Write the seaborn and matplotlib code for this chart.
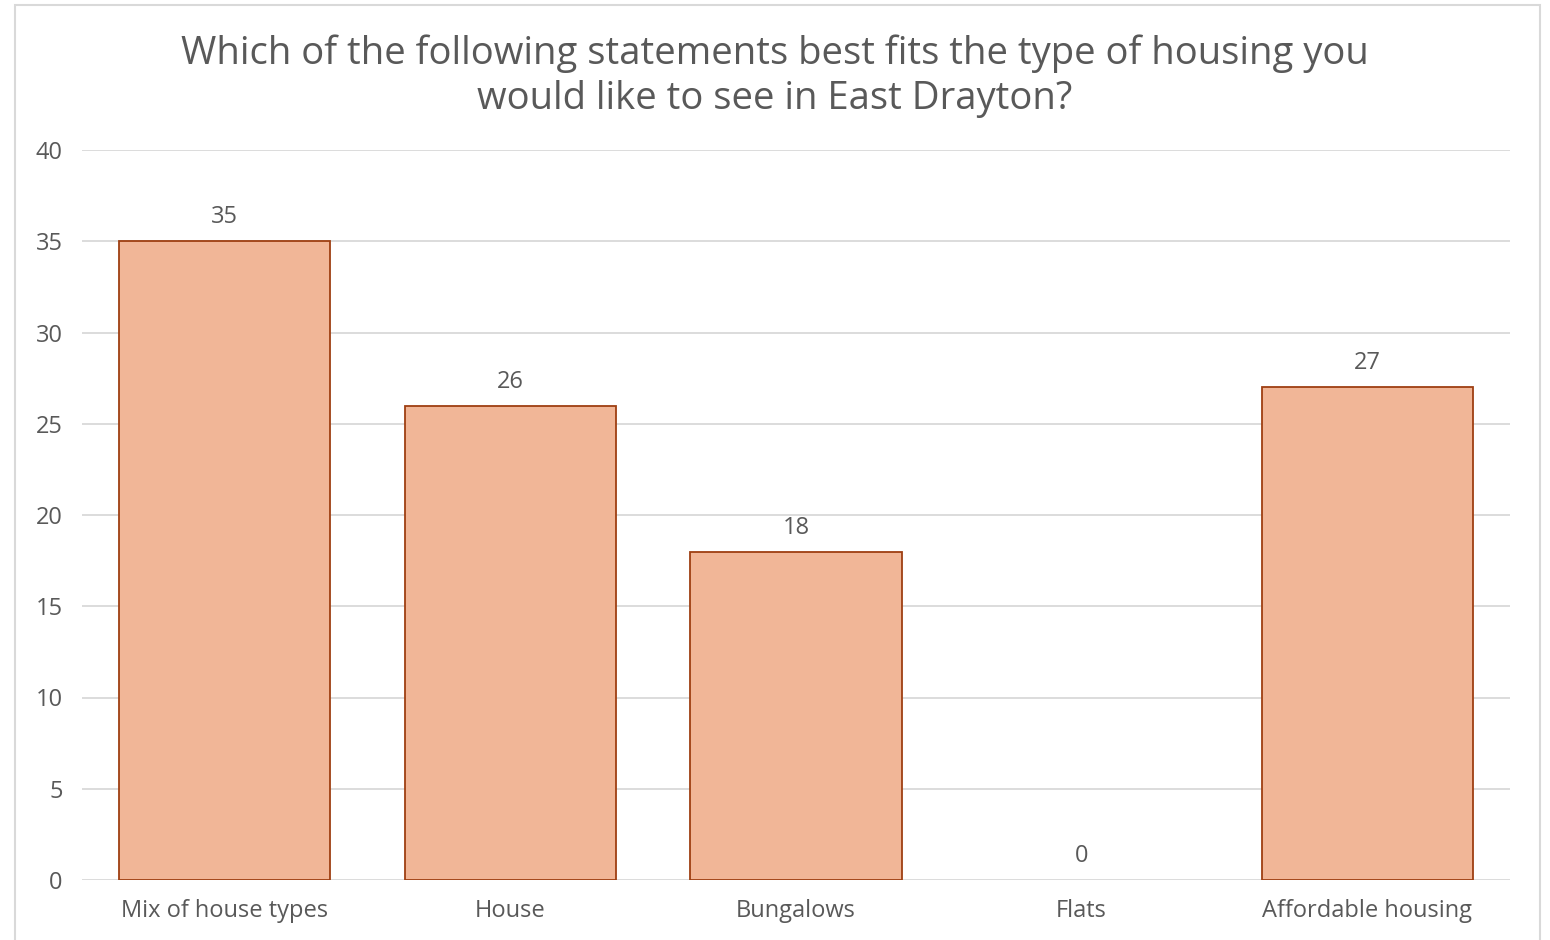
import numpy as np
import pandas as pd
import matplotlib
matplotlib.use('Agg')
import matplotlib.pyplot as plt
from matplotlib.patches import Rectangle
import seaborn as sns

# data
categories = ["Mix of house types", "House", "Bungalows", "Flats", "Affordable housing"]
counts = [35, 26, 18, 0, 27]
title = "Which of the following statements best fits the type of housing you\nwould like to see in East Drayton?"

sns.set_style("white")
plt.rcParams['font.family'] = ['Open Sans', 'DejaVu Sans']
text_color = "#595959"

df = pd.DataFrame({"category": categories, "count": counts})

fig = plt.figure(figsize=(15.5, 9.4), dpi=100)
ax = fig.add_axes([82 / 1550, 1 - 880 / 940, (1510 - 82) / 1550, (880 - 150) / 940])

sns.barplot(data=df, x="category", y="count", order=categories, color="#F1B697",
            width=0.74, edgecolor="#9E3F12", linewidth=1.3, ax=ax, zorder=3,
            saturation=1)

# zero-height bars get no outline
for p, v in zip(ax.patches, counts):
    if v == 0:
        p.set_edgecolor("none")

ax.set_ylim(0, 40)
ax.set_xlim(-0.5, len(categories) - 0.5)
ax.set_yticks(range(0, 41, 5))
ax.yaxis.grid(True, color="#D9D9D9", linewidth=1.3, zorder=0)
ax.set_axisbelow(True)
for s in ax.spines.values():
    s.set_visible(False)
ax.set_xlabel("")
ax.set_ylabel("")
ax.tick_params(axis="both", length=0, labelsize=17, labelcolor=text_color)
ax.tick_params(axis="x", pad=14)
ax.tick_params(axis="y", pad=14)

# value labels
for i, v in enumerate(counts):
    ax.text(i, v + 0.65, str(v), ha="center", va="bottom", fontsize=17, color=text_color)

fig.text(0.5, 1 - 76 / 940, title, ha="center", va="center", fontsize=27.5,
         color=text_color, linespacing=1.25)

# chart-area border
fig.patches.append(Rectangle((15 / 1550, -0.01), (1540 - 15) / 1550, 1 - 5 / 940 + 0.01,
                             transform=fig.transFigure, fill=False,
                             edgecolor="#D9D9D9", linewidth=1.5))

plt.savefig("out.png", dpi=100)
